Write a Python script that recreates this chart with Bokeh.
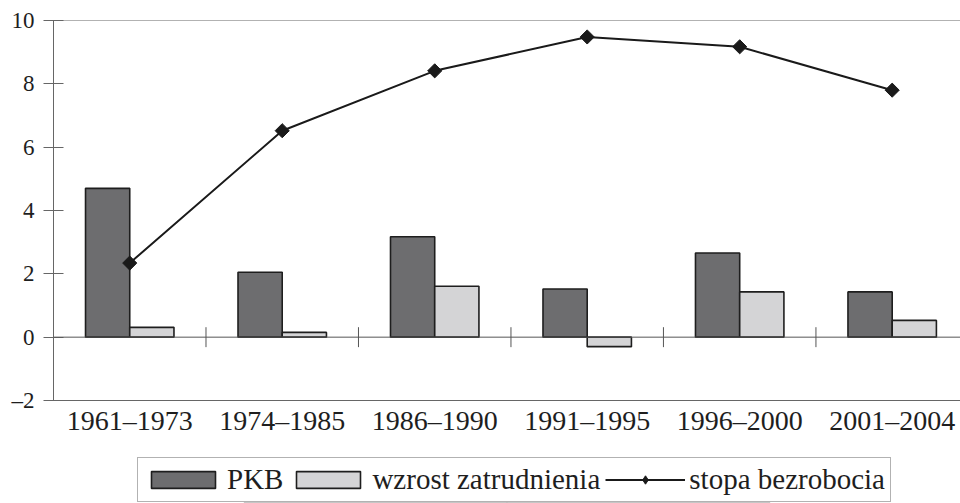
from bokeh.plotting import figure
from bokeh.layouts import column
from bokeh.models import (Range1d, FixedTicker, Span, Legend, LegendItem, ColumnDataSource)
from bokeh.embed import file_html
from bokeh.resources import INLINE
import math

categories = ["1961–1973", "1974–1985", "1986–1990", "1991–1995", "1996–2000", "2001–2004"]
pkb = [4.7, 2.05, 3.17, 1.52, 2.66, 1.43]
zatrudnienie = [0.31, 0.15, 1.61, -0.30, 1.43, 0.53]
bezrobocie = [2.34, 6.52, 8.41, 9.48, 9.17, 7.8]
y_ticks = [-2, 0, 2, 4, 6, 8, 10]

FONT = "Liberation Serif"
TXT = "#1e1e1e"
n = len(categories)
centers = [i + 0.5 for i in range(n)]

src = ColumnDataSource(dict(c=centers, pkb=pkb, zat=zatrudnienie, bez=bezrobocie,
                            xp=[c - 0.145 for c in centers], xz=[c + 0.145 for c in centers]))

p = figure(width=960, height=445, output_backend="svg", toolbar_location=None,
           x_range=Range1d(0, 5.948), y_range=Range1d(-2, 10),
           min_border_left=53, min_border_right=0, min_border_top=20, min_border_bottom=45)
p.outline_line_color = None
p.xgrid.visible = False
p.ygrid.visible = False

bar_kw = dict(bottom=0, width=0.29, source=src, line_color="#1e1e1e", line_width=1.6)
p.vbar(x="xp", top="pkb", fill_color="#6d6d6f", **bar_kw)
p.vbar(x="xz", top="zat", fill_color="#d4d4d6", **bar_kw)

p.add_layout(Span(location=0, dimension="width", line_color="#555555", line_width=1))
p.add_layout(Span(location=10, dimension="width", line_color="#666666", line_width=1))

half = 10 / 31.75
bx = list(range(1, n))
p.segment(x0=bx, x1=bx, y0=[-half] * len(bx), y1=[half] * len(bx), line_color="#555555", line_width=1)

p.line(x="c", y="bez", source=src, line_color="#1a1a1a", line_width=2)
p.scatter(x="c", y="bez", source=src, marker="square", angle=math.pi / 4, size=10,
          fill_color="#1a1a1a", line_color="#1a1a1a")

p.xaxis.ticker = FixedTicker(ticks=centers)
p.xaxis.major_label_overrides = {c: lab for c, lab in zip(centers, categories)}
p.xaxis.major_tick_line_color = None
p.xaxis.minor_tick_line_color = None
p.xaxis.axis_line_color = "#666666"
p.xaxis.major_label_text_font = FONT
p.xaxis.major_label_text_font_size = "28px"
p.xaxis.major_label_text_color = TXT
p.xaxis.major_label_standoff = -2

p.yaxis.ticker = FixedTicker(ticks=y_ticks)
p.yaxis.major_label_overrides = {-2: "–2"}
p.yaxis.minor_tick_line_color = None
p.yaxis.major_tick_in = 10
p.yaxis.major_tick_out = 10
p.yaxis.major_tick_line_color = "#666666"
p.yaxis.axis_line_color = "#666666"
p.yaxis.major_label_text_font = FONT
p.yaxis.major_label_text_font_size = "23px"
p.yaxis.major_label_text_color = TXT
p.yaxis.major_label_standoff = 9

# legend strip (its own renderers lie outside its visible range; only the legend shows)
q = figure(width=960, height=58, output_backend="svg", toolbar_location=None,
           x_range=Range1d(0, 1), y_range=Range1d(100, 101),
           min_border_left=0, min_border_right=0, min_border_top=0, min_border_bottom=0)
q.axis.visible = False
q.grid.visible = False
q.outline_line_color = None
lb_kw = dict(bottom=0, width=0.29, source=src, line_color="#1e1e1e", line_width=1.6)
l_pkb = q.vbar(x="xp", top="pkb", fill_color="#6d6d6f", **lb_kw)
l_zat = q.vbar(x="xz", top="zat", fill_color="#d4d4d6", **lb_kw)
l_line = q.line(x="c", y="bez", source=src, line_color="#1a1a1a", line_width=2)
l_mark = q.scatter(x="c", y="bez", source=src, marker="diamond", size=10,
                   fill_color="#1a1a1a", line_color="#1a1a1a")

legend = Legend(items=[
    LegendItem(label="PKB", renderers=[l_pkb]),
    LegendItem(label="wzrost zatrudnienia", renderers=[l_zat]),
    LegendItem(label="stopa bezrobocia", renderers=[l_line, l_mark]),
], orientation="horizontal", location=(84, 1),
    label_text_font=FONT, label_text_font_size="29px", label_text_color=TXT,
    glyph_width=80, glyph_height=21, label_standoff=4, spacing=5, padding=5,
    border_line_color="#666666", border_line_width=1, margin=0)
q.add_layout(legend)

open("out.html", "w").write(file_html(column(p, q), INLINE))
